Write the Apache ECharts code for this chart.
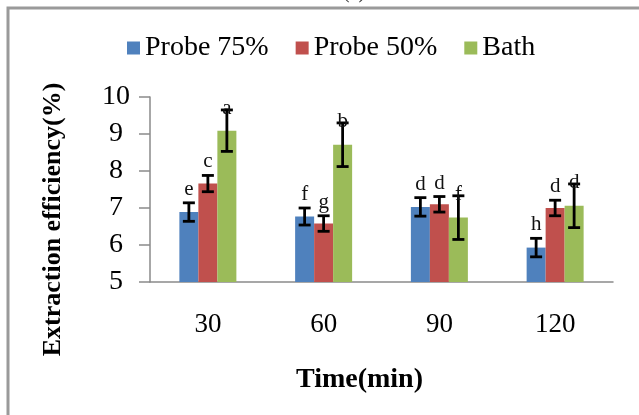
<!DOCTYPE html>
<html>
<head>
<meta charset="utf-8">
<script src="https://cdn.jsdelivr.net/npm/echarts@6/dist/echarts.min.js"></script>
<style>
html,body{margin:0;padding:0;background:#fff;}
#chart{width:639px;height:415px;}
</style>
</head>
<body>
<div id="chart"></div>
<script>
const categories = ['30', '60', '90', '120'];
const seriesNames = ['Probe 75%', 'Probe 50%', 'Bath'];
const probe75 = [6.89, 6.77, 7.03, 5.93];
const probe50 = [7.66, 6.58, 7.10, 7.00];
const bath = [9.09, 8.71, 6.74, 7.06];
const probe75Err = [0.25, 0.23, 0.25, 0.25];
const probe50Err = [0.22, 0.21, 0.21, 0.21];
const bathErr = [0.56, 0.59, 0.59, 0.59];
const probe75Letters = ['e', 'f', 'd', 'h'];
const probe50Letters = ['c', 'g', 'd', 'd'];
const bathLetters = ['a', 'b', 'f', 'd'];
const yMin = 5, yMax = 10, yStep = 1;

const colors = ['#4F81BD', '#C0504D', '#9BBB59'];
const values = [probe75, probe50, bath];
const errs = [probe75Err, probe50Err, bathErr];
const letters = [probe75Letters, probe50Letters, bathLetters];
const BAR_W = 19;
const FONT = '"Liberation Serif", "Times New Roman", serif';

const chart = echarts.init(document.getElementById('chart'));

function errorSeries(k) {
  return {
    type: 'custom',
    name: seriesNames[k] + ' err',
    z: 10,
    silent: true,
    data: values[k].map((v, i) => [i, v, errs[k][i]]),
    renderItem: function (params, api) {
      const i = api.value(0), v = api.value(1), e = api.value(2);
      const c = api.coord([i, v]);
      const x = c[0] + (k - 1) * BAR_W;
      const top = api.coord([i, v + e])[1];
      const bot = api.coord([i, v - e])[1];
      const hw = 6;
      const st = { stroke: '#000', lineWidth: 2.8 };
      const ly = (k === 2) ? top + 9 : top - 3;
      return {
        type: 'group',
        children: [
          { type: 'line', shape: { x1: x, y1: top, x2: x, y2: bot }, style: st },
          { type: 'line', shape: { x1: x - hw, y1: top, x2: x + hw, y2: top }, style: st },
          { type: 'line', shape: { x1: x - hw, y1: bot, x2: x + hw, y2: bot }, style: st },
          { type: 'text', style: { text: letters[k][params.dataIndex], x: x, y: ly,
              textAlign: 'center', textVerticalAlign: 'bottom',
              font: '21px ' + FONT, fill: '#111' } }
        ]
      };
    }
  };
}

const option = {
  animation: false,
  backgroundColor: '#fff',
  color: colors,
  graphic: [
    { type: 'rect', shape: { x: 8, y: 8, width: 660, height: 430 },
      style: { fill: 'none', stroke: '#9a9a9a', lineWidth: 3 }, z: 0 },
    { type: 'text', left: 343, top: -17, style: { text: '(a)', font: '20px ' + FONT, fill: '#333' } }
  ],
  legend: {
    data: seriesNames,
    left: 122, top: 29,
    itemWidth: 13, itemHeight: 13, itemGap: 27,
    icon: 'rect',
    textStyle: { fontFamily: FONT, fontSize: 28, color: '#000' }
  },
  grid: { left: 150, right: 26, top: 97, bottom: 133, containLabel: false },
  xAxis: {
    type: 'category',
    data: categories,
    axisLine: { lineStyle: { color: '#8a8a8a', width: 1.5 } },
    axisTick: { show: false },
    axisLabel: { margin: 29, fontFamily: FONT, fontSize: 27, color: '#000' },
    name: 'Time(min)',
    nameLocation: 'middle',
    nameGap: 84,
    nameTextStyle: { fontFamily: FONT, fontSize: 28, fontWeight: 'bold', color: '#000', padding: [0, 44, 0, 0] }
  },
  yAxis: {
    type: 'value',
    min: yMin, max: yMax, interval: yStep,
    axisLine: { show: true, lineStyle: { color: '#8a8a8a', width: 1.5 } },
    axisTick: { show: true, length: 11, lineStyle: { color: '#8a8a8a', width: 1.5 } },
    splitLine: { show: false },
    axisLabel: { margin: 34, align: 'center', fontFamily: FONT, fontSize: 28, color: '#000' },
    name: 'Extraction efficiency(%)',
    nameLocation: 'middle',
    nameGap: 84,
    nameTextStyle: { fontFamily: FONT, fontSize: 26, fontWeight: 'bold', color: '#000', padding: [0, 60, 0, 0] }
  },
  series: [
    ...values.map((vals, k) => ({
      type: 'bar', name: seriesNames[k], data: vals,
      barWidth: BAR_W, barGap: '0%', itemStyle: { color: colors[k] }
    })),
    errorSeries(0), errorSeries(1), errorSeries(2)
  ]
};
chart.setOption(option);
</script>
</body>
</html>
